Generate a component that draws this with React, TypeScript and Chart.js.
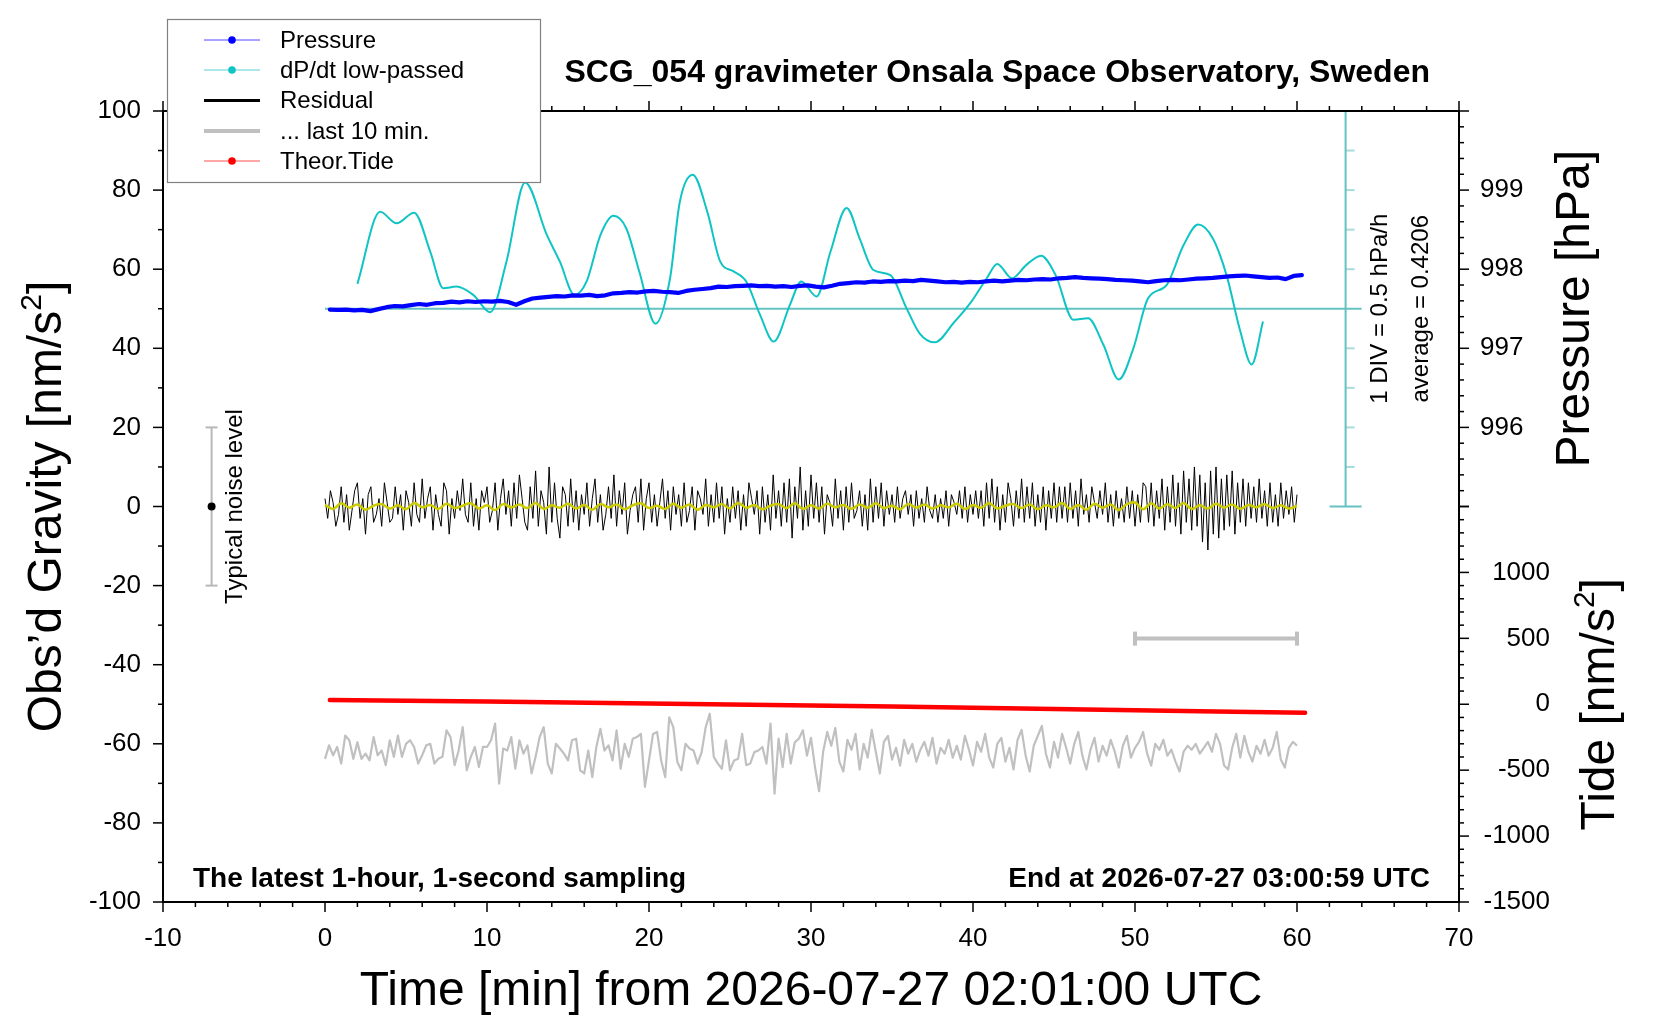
import React, { useEffect, useRef } from 'react';
import { Chart, registerables } from 'chart.js';
Chart.register(...registerables);

const W = 1660;
const H = 1020;
const FONT = '"Liberation Sans", Arial, Helvetica, sans-serif';

// ---------- tick labels ----------
const timeTickLabels = [-10, 0, 10, 20, 30, 40, 50, 60, 70];
const gravityTickLabels = [-100, -80, -60, -40, -20, 0, 20, 40, 60, 80, 100];
const pressureTickLabels = [996, 997, 998, 999];
const tideTickLabels = [-1500, -1000, -500, 0, 500, 1000];

// ---------- Pressure [hPa], sampled every 0.5 min starting 0.3 min ----------
const pressureStart = 0.3;
const pressureStep = 0.5;
const pressureValues = [
  997.490, 997.485, 997.490, 997.480, 997.485, 997.470, 997.495, 997.520, 997.535, 997.530,
  997.545, 997.560, 997.550, 997.570, 997.575, 997.590, 997.580, 997.595, 997.585, 997.595,
  997.590, 997.600, 997.585, 997.550, 997.595, 997.630, 997.640, 997.650, 997.660, 997.655,
  997.670, 997.665, 997.675, 997.660, 997.670, 997.695, 997.700, 997.710, 997.705, 997.720,
  997.725, 997.715, 997.710, 997.700, 997.725, 997.740, 997.750, 997.760, 997.780, 997.775,
  997.785, 997.790, 997.795, 997.785, 997.790, 997.780, 997.785, 997.775, 997.790, 997.795,
  997.780, 997.770, 997.790, 997.815, 997.825, 997.835, 997.830, 997.845, 997.840, 997.850,
  997.845, 997.855, 997.850, 997.865, 997.855, 997.845, 997.835, 997.840, 997.830, 997.840,
  997.835, 997.845, 997.855, 997.845, 997.855, 997.865, 997.860, 997.870, 997.875, 997.870,
  997.885, 997.890, 997.900, 997.890, 997.885, 997.880, 997.875, 997.865, 997.860, 997.855,
  997.845, 997.835, 997.850, 997.860, 997.865, 997.860, 997.870, 997.880, 997.885, 997.890,
  997.900, 997.910, 997.915, 997.920, 997.910, 997.900, 997.890, 997.895, 997.875, 997.915,
  997.925,
];

// ---------- dP/dt low-passed [hPa/h] ----------
const dpdtTime = [
  2.0, 3.4, 4.42, 5.5, 6.5, 7.3, 8.1, 9.15, 10.2, 11.2, 12.35, 13.7, 14.5, 15.4, 16.15, 17.0,
  17.8, 18.6, 19.4, 20.4, 21.3, 21.9, 22.7, 23.6, 24.4, 25.2, 26.0, 26.85, 27.7, 28.7, 29.4,
  30.35, 31.2, 32.2, 33.0, 33.85, 34.9, 35.9, 36.7, 37.65, 38.8, 39.9, 40.85, 41.5, 42.4, 43.3,
  44.2, 45.1, 46.2, 47.1, 48.05, 49.0, 49.9, 50.8, 51.95, 53.0, 53.9, 54.8, 55.65, 56.5, 57.2, 57.9,
];
const dpdtValues = [
  0.315, 1.225, 1.08, 1.215, 0.72, 0.26, 0.28, 0.175, -0.045, 0.595, 1.595, 0.93, 0.595, 0.175, 0.345, 0.93,
  1.175, 1.015, 0.47, -0.19, 0.385, 1.35, 1.695, 1.225, 0.595, 0.475, 0.345, -0.075, -0.415, 0.05, 0.345,
  0.155, 0.72, 1.275, 0.89, 0.49, 0.425, 0.005, -0.31, -0.425, -0.18, 0.09, 0.385, 0.565, 0.385, 0.555,
  0.67, 0.425, -0.14, -0.12, -0.455, -0.895, -0.5, 0.13, 0.3, 0.805, 1.065, 0.89, 0.425, -0.285, -0.705, -0.16,
];
const dpdtAverage = '0.4206';

// ---------- Residual [nm/s^2], every 10 s (1/6 min) from 0 to 60 min ----------
const residualStep = 1 / 6;
const residualValues = [
  2, -3, 4, 1, -5, -2, 5, -4, 3, -6, -1, 4, 6, -3, 2, -7, 3, 5, -4, -2, 2, -5, 6, 1, -4, -3, 5, -2, 3, -6,
  4, 1, -5, 6, -2, -4, 7, -3, 2, 5, -6, 3, -2, -5, 6, 4, -7, 2, -3, 4, -1, 7, -2, -4, 6, -5, 2, -6, 4, 1,
  5, -4, -1, 6, -6, 2, 7, -2, 4, -5, 6, -3, 8, 2, -4, -6, 5, -3, 9, -5, 4, 1, -7, 10, -4, 6, -3, -8, 5, 3,
  -5, 7, -4, 4, -6, 3, -2, 6, -5, 2, 7, -4, 3, -6, -2, 5, -3, 8, -5, 4, -2, 6, -7, -1, 3, 5, -4, 7, -6, 2,
  6, -4, 3, -5, 1, 7, -3, 4, -6, 5, -2, 3, -5, 6, -4, -1, 5, -6, 4, 2, -2, 7, -5, 3, -4, 6, -3, 5, -7, 2,
  -4, 5, -3, 4, -6, 3, -5, 6, 2, -2, 4, -7, 5, -4, 3, -6, 8, -3, 4, -5, 6, -4, 7, -8, 5, -3, 10, -6, 4, -5,
  8, -3, 6, -4, 5, -7, 3, 1, -5, 7, -3, 4, -6, 5, -4, 6, -3, -1, 4, -5, 3, -6, 7, -4, 5, -3, 6, -5, 4, -2,
  3, -4, 5, -3, 2, 4, -2, 3, -5, 4, -3, 2, -4, 5, -1, -3, 3, -4, 2, -3, 4, -5, 3, 1, -2, 4, -3, 5, -4, 3,
  -2, 4, -3, 4, -5, 6, -3, 7, -4, 5, -6, 3, -4, 6, 2, -5, 4, -3, 7, -4, 5, -3, 6, -5, 3, -4, 5, -6, 4, -3,
  6, -4, 5, -3, 5, -4, 6, -3, 4, -5, 7, -2, 3, -4, 5, 1, -3, 4, -2, 6, -4, 3, -5, 4, -3, 2, -4, 5, -3, 4,
  -5, 3, -4, 6, 5, -4, 6, -5, 4, -3, 7, -6, 5, -4, 8, -5, 6, -7, 9, -4, 7, -6, 10, -5, 8, -9, 6, -11, 9, -7,
  10, -8, 7, -6, 8, -5, 9, -7, 6, -4, 7, -5, 6, -3, 5, -4, 7, -3, 4, -5, 6, -4, 3, -5, 6, -3, 4, -2, 5, -4, 3,
];

// ---------- Smoothed residual (yellow), every 0.5 min ----------
const smoothStep = 0.5;
const smoothValues = [
  0.4, -0.6, 0.8, -0.3, 0.5, -0.8, 0.2, 0.6, -0.5, 0.3,
  -0.7, 0.9, -0.2, 0.4, -0.6, 0.7, -0.4, 0.2, 0.8, -0.5,
  0.3, -0.9, 0.6, -0.2, 0.5, -0.4, 0.9, -0.6, 0.3, -0.3,
  0.7, -0.5, 0.4, -0.8, 0.6, -0.2, 0.5, -0.7, 0.3, 0.8,
  -0.4, 0.2, -0.6, 0.7, -0.3, 0.5, -0.8, 0.4, -0.2, 0.6,
  -0.5, 0.9, -0.3, 0.4, -0.7, 0.2, 0.6, -0.4, 0.8, -0.6,
  0.3, -0.5, 0.7, -0.2, 0.4, -0.6, 0.5, -0.3, 0.8, -0.4,
  0.2, -0.7, 0.6, -0.3, 0.5, -0.5, 0.3, -0.2, 0.7, -0.6,
  0.4, -0.3, 0.8, -0.5, 0.2, 0.6, -0.4, 0.5, -0.7, 0.3,
  -0.2, 0.9, -0.6, 0.4, -0.8, 0.7, -0.3, 0.5, -0.9, 0.6,
  1.0, -0.7, 0.8, -0.5, 0.6, -0.4, 0.9, -0.6, 0.3, -0.5,
  0.7, -0.3, 0.5, -0.6, 0.4, -0.2, 0.6, -0.4, 0.3, -0.5,
  0.2,
];

// ---------- Last 10 min of residual, stretched over 0..60, offset (gray), every 0.25 min ----------
const last10Step = 0.25;
const last10Values = [
  -63.8, -60.4, -62.9, -60.8, -65.0, -57.9, -59.1, -63.8, -59.6, -63.8,
  -62.5, -64.2, -58.3, -62.9, -61.7, -65.4, -59.1, -63.3, -57.9, -63.3,
  -60.0, -59.1, -60.8, -65.0, -62.9, -60.4, -60.0, -65.0, -63.8, -63.3,
  -56.6, -58.3, -65.4, -61.7, -55.8, -66.7, -63.3, -60.8, -65.9, -60.8,
  -60.8, -59.1, -54.9, -70.1, -61.2, -61.7, -58.3, -66.3, -59.1, -62.5,
  -60.4, -67.5, -63.3, -58.3, -55.8, -65.0, -67.5, -60.0, -61.2, -62.5,
  -64.2, -59.1, -58.7, -66.7, -67.5, -61.7, -68.4, -60.8, -56.2, -61.7,
  -60.4, -64.2, -56.6, -66.3, -60.0, -63.3, -58.7, -58.3, -57.5, -70.9,
  -64.2, -57.5, -57.0, -64.2, -68.4, -53.3, -55.8, -64.6, -66.7, -60.0,
  -61.2, -61.7, -65.0, -62.1, -55.8, -52.4, -63.3, -65.0, -66.3, -59.1,
  -66.7, -64.2, -63.8, -57.5, -65.4, -65.0, -62.1, -61.7, -60.8, -65.0,
  -54.9, -72.6, -58.7, -65.9, -57.5, -65.0, -59.6, -58.7, -56.6,
  -63.0, -58.5, -66.0, -72.0, -62.0, -57.0, -60.5, -56.0, -64.5, -67.0,
  -59.0, -61.5, -57.5, -66.5, -60.0, -63.5, -56.5, -62.0, -67.5, -59.5,
  -58.0, -64.0, -61.0, -65.5, -59.0, -62.5, -60.0, -64.5, -61.5, -59.5,
  -63.0, -58.5, -65.0, -61.0, -62.5, -59.0, -63.5, -60.5, -64.0, -58.0,
  -61.5, -65.5, -59.5, -62.0, -57.5, -63.5, -66.0, -60.0, -58.5, -64.5,
  -61.0, -66.5, -59.0, -56.5, -63.0, -67.0, -60.5, -58.0, -55.5, -62.5,
  -66.0, -59.5, -63.5, -57.5, -61.0, -65.0, -60.0, -57.0, -63.0, -66.5,
  -61.5, -58.5, -64.5, -60.5, -63.0, -59.0, -62.0, -66.0, -60.5, -58.0,
  -63.5, -61.0, -59.5, -57.0, -62.5, -65.5, -60.0, -61.5, -59.0, -63.0,
  -61.5, -64.5, -67.0, -62.0, -60.5, -61.5, -60.0, -62.5, -61.0, -59.5,
  -62.0, -57.5, -60.0, -65.5, -66.5, -61.0, -57.5, -63.5, -58.0, -62.0,
  -64.5, -60.5, -62.5, -59.0, -63.0, -61.0, -57.0, -64.0, -66.0, -61.0,
  -59.5, -60.5,
];
const last10BarStart = 50;
const last10BarEnd = 60;
const last10BarLevel = -33.4;

// ---------- Theoretical tide [nm/s^2] ----------
const tideTime = [0.3, 5, 10, 15, 20, 25, 30, 35, 40, 45, 50, 55, 60.5];
const tideValues = [32, 26, 20, 13, 6, -1, -9, -18, -27, -36, -45, -55, -65];

// ---------- annotations ----------
const noiseX = -7;
const noiseHalf = 20;
const dpdtAxisX = 63;
const dpdtDiv = 0.5;

const C_BLUE = '#0000ff';
const C_CYAN = '#10c4c4';
const C_CYAN_AXIS = '#66c2c2';
const C_CYAN_TICK = '#a8dcdc';
const C_GRAY = '#c0c0c0';
const C_RED = '#ff0000';
const C_YELLOW = '#cccc00';

const AREA = { left: 163, right: 1459, top: 111, bottom: 902 };

function series(start: number, step: number, vals: number[]) {
  return vals.map((v, i) => ({ x: start + i * step, y: v }));
}
function pairs(ts: number[], vals: number[]) {
  return vals.map((v, i) => ({ x: ts[i], y: v }));
}

function line(ctx: CanvasRenderingContext2D, x1: number, y1: number, x2: number, y2: number) {
  ctx.beginPath();
  ctx.moveTo(x1, y1);
  ctx.lineTo(x2, y2);
  ctx.stroke();
}

function rotText(ctx: CanvasRenderingContext2D, parts: { t: string; font: string; dy?: number }[], x: number, y: number) {
  ctx.save();
  ctx.translate(x, y);
  ctx.rotate(-Math.PI / 2);
  ctx.textAlign = 'left';
  ctx.textBaseline = 'alphabetic';
  const widths = parts.map((p) => {
    ctx.font = p.font;
    return ctx.measureText(p.t).width;
  });
  const total = widths.reduce((a, b) => a + b, 0);
  let cx = -total / 2;
  parts.forEach((p, i) => {
    ctx.font = p.font;
    ctx.fillText(p.t, cx, p.dy || 0);
    cx += widths[i];
  });
  ctx.restore();
}

const decorPlugin = {
  id: 'decor',
  beforeDatasetsDraw(chart: any) {
    const { ctx, scales } = chart;
    const x = scales.x;
    const y = scales.y;
    const yD = scales.yD;
    ctx.save();
    // dP/dt axis
    const ax = x.getPixelForValue(dpdtAxisX);
    const yTop = yD.getPixelForValue(2.5);
    const yBot = yD.getPixelForValue(-2.5);
    const y0 = yD.getPixelForValue(0);
    ctx.strokeStyle = C_CYAN_TICK;
    ctx.lineWidth = 2;
    for (let v = -2; v <= 2.001; v += dpdtDiv) {
      if (Math.abs(v) < 1e-6) continue;
      const py = yD.getPixelForValue(v);
      line(ctx, ax, py, ax + 9, py);
    }
    ctx.strokeStyle = C_CYAN_AXIS;
    ctx.lineWidth = 2;
    line(ctx, x.getPixelForValue(0), y0, ax + 16, y0);
    line(ctx, ax, yTop, ax, yBot);
    line(ctx, ax - 16, yTop, ax + 16, yTop);
    line(ctx, ax - 16, yBot, ax + 16, yBot);

    // typical noise level bar
    const nx = x.getPixelForValue(noiseX);
    const n1 = y.getPixelForValue(noiseHalf);
    const n2 = y.getPixelForValue(-noiseHalf);
    ctx.strokeStyle = '#b8b8b8';
    ctx.lineWidth = 2;
    line(ctx, nx, n1, nx, n2);
    line(ctx, nx - 6, n1, nx + 6, n1);
    line(ctx, nx - 6, n2, nx + 6, n2);
    ctx.fillStyle = '#000';
    ctx.beginPath();
    ctx.arc(nx, y.getPixelForValue(0), 4, 0, Math.PI * 2);
    ctx.fill();

    // last 10 min bar
    const bx1 = x.getPixelForValue(last10BarStart);
    const bx2 = x.getPixelForValue(last10BarEnd);
    const by = y.getPixelForValue(last10BarLevel);
    ctx.strokeStyle = C_GRAY;
    ctx.lineWidth = 4;
    line(ctx, bx1, by, bx2, by);
    line(ctx, bx1, by - 7, bx1, by + 7);
    line(ctx, bx2, by - 7, bx2, by + 7);
    ctx.restore();
  },
  afterDatasetsDraw(chart: any) {
    const { ctx, chartArea: a, scales } = chart;
    const x = scales.x;
    const y = scales.y;
    const yP = scales.yP;
    const yT = scales.yT;
    const yD = scales.yD;
    ctx.save();
    ctx.strokeStyle = '#000';
    ctx.fillStyle = '#000';

    // ticks
    ctx.lineWidth = 1.5;
    for (let v = -10; v <= 70; v += 2) {
      const px = x.getPixelForValue(v);
      const len = v % 10 === 0 ? 10 : 5;
      line(ctx, px, a.bottom, px, a.bottom + len);
      line(ctx, px, a.top, px, a.top - len);
    }
    for (let v = -100; v <= 100; v += 10) {
      const py = y.getPixelForValue(v);
      const len = v % 20 === 0 ? 10 : 5;
      line(ctx, a.left, py, a.left - len, py);
    }
    for (let i = 0; i <= 25; i++) {
      const v = 995 + i * 0.2;
      const py = yP.getPixelForValue(v);
      const len = i % 5 === 0 ? 10 : 5;
      line(ctx, a.right, py, a.right + len, py);
    }
    for (let v = -1500; v <= 1500; v += 100) {
      const py = yT.getPixelForValue(v);
      const len = v % 500 === 0 ? 10 : 5;
      line(ctx, a.right, py, a.right + len, py);
    }

    // frame
    ctx.lineWidth = 2;
    ctx.strokeRect(a.left, a.top, a.right - a.left, a.bottom - a.top);

    // tick labels
    ctx.font = `26px ${FONT}`;
    ctx.textAlign = 'center';
    ctx.textBaseline = 'alphabetic';
    timeTickLabels.forEach((v) => ctx.fillText(String(v), x.getPixelForValue(v), 946));
    ctx.textAlign = 'right';
    ctx.textBaseline = 'middle';
    gravityTickLabels.forEach((v) => ctx.fillText(String(v), a.left - 22, y.getPixelForValue(v)));
    ctx.textAlign = 'left';
    pressureTickLabels.forEach((v) => ctx.fillText(String(v), a.right + 21, yP.getPixelForValue(v)));
    ctx.textAlign = 'right';
    tideTickLabels.forEach((v) => ctx.fillText(String(v), a.right + 91, yT.getPixelForValue(v)));

    // axis titles
    ctx.font = `48px ${FONT}`;
    ctx.textAlign = 'center';
    ctx.textBaseline = 'alphabetic';
    ctx.fillText('Time [min] from 2026-07-27 02:01:00 UTC', (a.left + a.right) / 2, 1005);
    const big = `48px ${FONT}`;
    const sup = `30px ${FONT}`;
    rotText(ctx, [{ t: 'Obs\u2019d Gravity [nm/s', font: big }, { t: '2', font: sup, dy: -20 }, { t: ']', font: big }], 61, (a.top + a.bottom) / 2);
    rotText(ctx, [{ t: 'Pressure [hPa]', font: big }], 1589, yP.getPixelForValue(997.5));
    rotText(ctx, [{ t: 'Tide [nm/s', font: big }, { t: '2', font: sup, dy: -20 }, { t: ']', font: big }], 1614, yT.getPixelForValue(0));

    // title & notes
    ctx.font = `bold 32px ${FONT}`;
    ctx.textAlign = 'right';
    ctx.fillText('SCG_054 gravimeter Onsala Space Observatory, Sweden', 1430, 82);
    ctx.font = `bold 28px ${FONT}`;
    ctx.textAlign = 'left';
    ctx.fillText('The latest 1-hour, 1-second sampling', 193, 887);
    ctx.textAlign = 'right';
    ctx.fillText('End at 2026-07-27 03:00:59 UTC', 1430, 887);

    // rotated annotations
    const small = `24px ${FONT}`;
    rotText(ctx, [{ t: 'Typical noise level', font: small }], 242, y.getPixelForValue(0));
    rotText(ctx, [{ t: `1 DIV = ${dpdtDiv} hPa/h`, font: small }], 1387, yD.getPixelForValue(0));
    rotText(ctx, [{ t: `average = ${dpdtAverage}`, font: small }], 1428, yD.getPixelForValue(0));

    // legend
    const lx = 167, ly = 19, lw = 373, lh = 163;
    ctx.fillStyle = '#fff';
    ctx.fillRect(lx, ly, lw, lh);
    ctx.strokeStyle = '#808080';
    ctx.lineWidth = 1.2;
    ctx.strokeRect(lx + 0.5, ly + 0.5, lw, lh);
    const rows = [40, 70, 100.5, 131, 161];
    chart.data.datasets
      .filter((d: any) => d.legendRow !== undefined)
      .forEach((d: any) => {
        const ry = rows[d.legendRow];
        ctx.strokeStyle = d.legendColor || d.borderColor;
        ctx.lineWidth = d.legendWidth;
        line(ctx, 204, ry, 260, ry);
        if (d.legendDot) {
          ctx.fillStyle = d.borderColor;
          ctx.beginPath();
          ctx.arc(232, ry, 3.8, 0, Math.PI * 2);
          ctx.fill();
        }
        ctx.fillStyle = '#000';
        ctx.font = `24px ${FONT}`;
        ctx.textAlign = 'left';
        ctx.textBaseline = 'middle';
        ctx.fillText(d.label, 280, ry + 1);
      });
    ctx.restore();
  },
};

export default function App() {
  const ref = useRef<HTMLCanvasElement>(null);
  useEffect(() => {
    document.body.style.margin = '0';
    document.body.style.overflow = 'hidden';
    const datasets: any[] = [
      {
        label: 'Pressure',
        data: series(pressureStart, pressureStep, pressureValues),
        yAxisID: 'yP',
        borderColor: C_BLUE,
        borderWidth: 4.2,
        borderJoinStyle: 'round',
        borderCapStyle: 'round',
        pointRadius: 0,
        tension: 0,
        order: 0,
        legendRow: 0,
        legendWidth: 1,
        legendColor: '#4a4aff',
        legendDot: true,
      },
      {
        label: 'dP/dt low-passed',
        data: pairs(dpdtTime, dpdtValues),
        yAxisID: 'yD',
        borderColor: C_CYAN,
        borderWidth: 2,
        pointRadius: 0,
        cubicInterpolationMode: 'monotone',
        order: 1,
        legendRow: 1,
        legendWidth: 1,
        legendColor: '#5fd0d0',
        legendDot: true,
      },
      {
        label: 'Smoothed',
        data: series(0, smoothStep, smoothValues),
        yAxisID: 'y',
        borderColor: C_YELLOW,
        borderWidth: 2.5,
        pointRadius: 0,
        tension: 0.4,
        order: 2,
      },
      {
        label: 'Residual',
        data: series(0, residualStep, residualValues),
        yAxisID: 'y',
        borderColor: '#000000',
        borderWidth: 1,
        pointRadius: 0,
        tension: 0,
        order: 3,
        legendRow: 2,
        legendWidth: 3,
      },
      {
        label: '... last 10 min.',
        data: series(0, last10Step, last10Values),
        yAxisID: 'y',
        borderColor: C_GRAY,
        borderWidth: 2.2,
        borderJoinStyle: 'round',
        pointRadius: 0,
        tension: 0,
        order: 3,
        legendRow: 3,
        legendWidth: 4,
      },
      {
        label: 'Theor.Tide',
        data: pairs(tideTime, tideValues),
        yAxisID: 'yT',
        borderColor: C_RED,
        borderWidth: 4.5,
        borderCapStyle: 'round',
        pointRadius: 0,
        tension: 0,
        order: 3,
        legendRow: 4,
        legendWidth: 1,
        legendColor: '#ff5050',
        legendDot: true,
      },
    ];
    const chart = new Chart(ref.current as HTMLCanvasElement, {
      type: 'line',
      data: { datasets },
      options: {
        responsive: false,
        animation: false,
        events: [],
        layout: { padding: { left: AREA.left, right: W - AREA.right, top: AREA.top, bottom: H - AREA.bottom } },
        scales: {
          x: { type: 'linear', min: -10, max: 70, display: false },
          y: { type: 'linear', min: -100, max: 100, display: false },
          yP: { type: 'linear', min: 990, max: 1000, display: false },
          yT: { type: 'linear', min: -1500, max: 4500, display: false },
          yD: { type: 'linear', min: -7.5, max: 2.5, display: false },
        },
        plugins: {
          legend: { display: false },
          tooltip: { enabled: false },
          title: { display: false },
        },
      } as any,
      plugins: [decorPlugin],
    });
    return () => chart.destroy();
  }, []);
  return (
    <div style={{ width: W, height: H, background: '#fff' }}>
      <canvas ref={ref} width={W} height={H} style={{ width: W, height: H, display: 'block' }} />
    </div>
  );
}
